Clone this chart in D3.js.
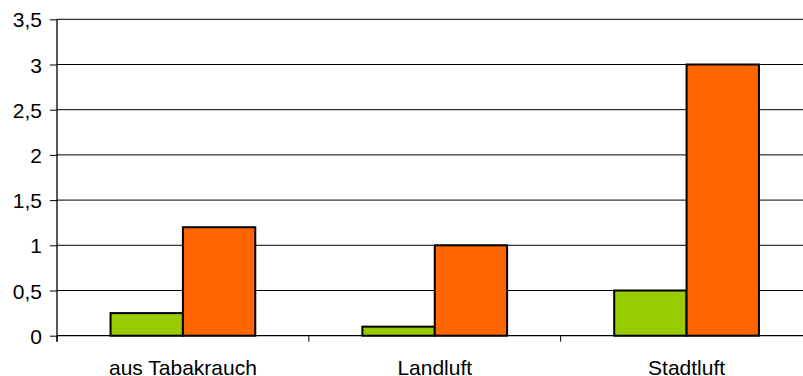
<!DOCTYPE html>
<html>
<head>
<meta charset="utf-8">
<script src="https://cdn.jsdelivr.net/npm/d3@7"></script>
<style>
  html, body { margin: 0; padding: 0; background: #fff; }
  svg { display: block; }
  text { font-family: "Liberation Sans", Arial, sans-serif; fill: #000; }
</style>
</head>
<body>
<svg id="chart" width="803" height="376"></svg>
<script>
const categories = ["aus Tabakrauch", "Landluft", "Stadtluft"];
const seriesNames = ["Reihe 1", "Reihe 2"];
const seriesGreen = [0.25, 0.1, 0.5];
const seriesOrange = [1.2, 1.0, 3.0];
const yTicks = [0, 0.5, 1, 1.5, 2, 2.5, 3, 3.5];
const yTickLabels = ["0", "0,5", "1", "1,5", "2", "2,5", "3", "3,5"];
const colors = ["#99CC00", "#FF6600"];

(function () {
const W = 803, H = 376;
const mLeft = 57, mRight = 812.5, mTop = 19.3, mBottom = 335.7;

const svg = d3.select("#chart");

const x = d3.scaleBand().domain(categories).range([mLeft, mRight]).paddingInner(0).paddingOuter(0);
const xs = d3.scaleBand().domain([0, 1]).range([0, x.bandwidth()]).paddingInner(0).paddingOuter(0.74);
const y = d3.scaleLinear().domain([0, 3.5]).range([mBottom, mTop]);

// gridlines
svg.append("g").selectAll("line").data(yTicks.filter(d => d > 0)).join("line")
  .attr("x1", mLeft).attr("x2", W)
  .attr("y1", d => y(d)).attr("y2", d => y(d))
  .attr("stroke", "#000").attr("stroke-width", 1);

// bars
const rows = categories.map((c, i) => ({ cat: c, vals: [seriesGreen[i], seriesOrange[i]] }));
const g = svg.append("g").selectAll("g").data(rows).join("g")
  .attr("transform", d => `translate(${x(d.cat)},0)`);
g.selectAll("rect").data(d => d.vals.map((v, k) => ({ v, k }))).join("rect")
  .attr("x", d => xs(d.k))
  .attr("width", xs.bandwidth())
  .attr("y", d => y(d.v))
  .attr("height", d => y(0) - y(d.v))
  .attr("fill", d => colors[d.k])
  .attr("stroke", "#000").attr("stroke-width", 2);

// y axis
const yAxis = d3.axisLeft(y).tickValues(yTicks).tickSize(7)
  .tickFormat((d, i) => yTickLabels[i]);
const ya = svg.append("g").attr("transform", `translate(${mLeft},0)`).call(yAxis);
ya.select(".domain").attr("stroke", "#000").attr("stroke-width", 1.3)
  .attr("d", `M0,${mTop}V${mBottom + 6}`);
ya.selectAll(".tick line").attr("stroke", "#000");
ya.selectAll(".tick text").attr("x", -15).attr("dy", "0.36em")
  .style("font-size", "21px").style("font-family", "'Liberation Sans', Arial, sans-serif").attr("fill", "#000");

// x axis
const xAxis = d3.axisBottom(x).tickSize(0).tickFormat(d => d);
const xa = svg.append("g").attr("transform", `translate(0,${mBottom})`).call(xAxis);
xa.select(".domain").attr("stroke", "#000").attr("stroke-width", 1.3)
  .attr("d", `M${mLeft},0H${W}`);
xa.selectAll(".tick text").attr("y", 39).attr("dy", 0)
  .style("font-size", "21px").style("font-family", "'Liberation Sans', Arial, sans-serif").attr("fill", "#000");
// category boundary ticks
const bounds = categories.map(c => x(c)).concat([x(categories[categories.length - 1]) + x.bandwidth()]);
svg.append("g").selectAll("line").data(bounds).join("line")
  .attr("x1", d => d).attr("x2", d => d)
  .attr("y1", mBottom).attr("y2", mBottom + 6)
  .attr("stroke", "#000").attr("stroke-width", 1);
})();
</script>
</body>
</html>
